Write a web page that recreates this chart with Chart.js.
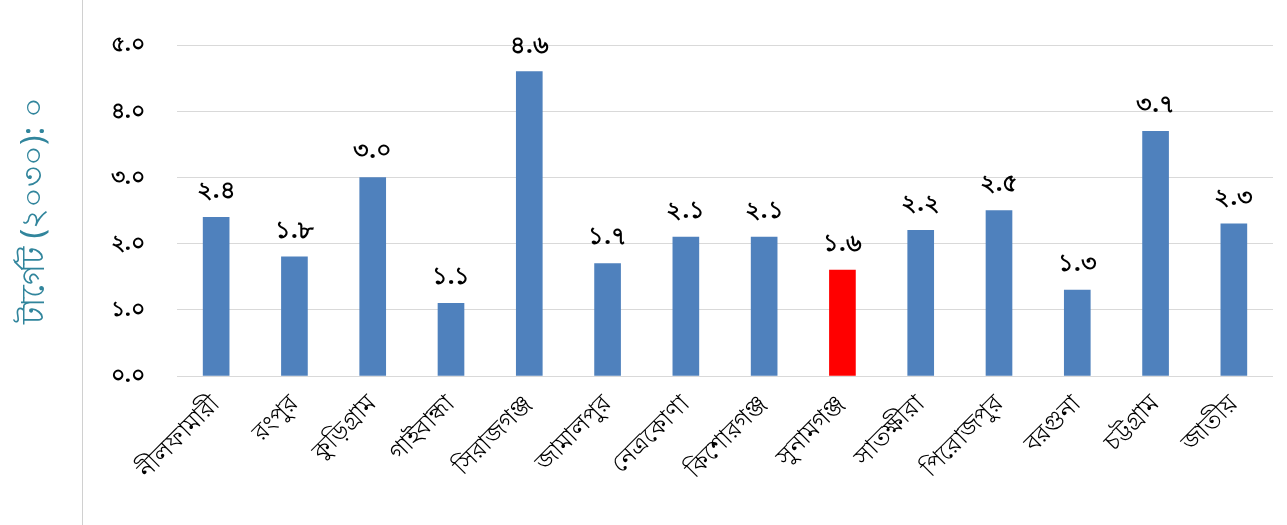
<!DOCTYPE html>
<html><head><meta charset="utf-8">
<script src="https://cdn.jsdelivr.net/npm/chart.js@4"></script>
<style>
body{margin:0;background:#fff;}
#wrap{position:absolute;left:0;top:0;width:1287px;height:525px;}
#frame{position:absolute;left:82px;top:0;width:1px;height:525px;background:#d0d0d0;}
</style></head><body>
<div id="wrap"><canvas id="c" width="1287" height="525"></canvas></div>
<div id="frame"></div>
<script>
const categories = ["নীলফামারী","রংপুর","কুড়িগ্রাম","গাইবান্ধা","সিরাজগঞ্জ","জামালপুর","নেত্রকোণা","কিশোরগঞ্জ","সুনামগঞ্জ","সাতক্ষীরা","পিরোজপুর","বরগুনা","চট্টগ্রাম","জাতীয়"];
const values = [2.4,1.8,3.0,1.1,4.6,1.7,2.1,2.1,1.6,2.2,2.5,1.3,3.7,2.3];
const highlight = "সুনামগঞ্জ";
const yTicks = [0,1,2,3,4,5];
const axisTitle = "টার্গেট (২০৩০): ০";

const bnDigits = "০১২৩৪৫৬৭৮৯";
const bn = s => String(s).replace(/\d/g, d => bnDigits[d]);
const FONT = "'Noto Sans', sans-serif";

const labelPlugin = {
    id: "labels",
    afterDatasetsDraw(chart) {
        const ctx = chart.ctx;
        const meta = chart.getDatasetMeta(0);
        ctx.save();
        ctx.font = "bold 24px " + FONT;
        ctx.fillStyle = "#000";
        ctx.textAlign = "center";
        ctx.textBaseline = "bottom";
        meta.data.forEach((bar, i) => {
            ctx.fillText(bn(values[i].toFixed(1)), bar.x, bar.y - 14);
        });
        ctx.restore();
    }
};

new Chart(document.getElementById("c"), {
    type: "bar",
    data: {
        labels: categories,
        datasets: [{
            data: values,
            backgroundColor: categories.map(c => c === highlight ? "#ff0000" : "#4f81bd"),
            barThickness: 26,
        }]
    },
    options: {
        responsive: false,
        animation: false,
        layout: { padding: { left: 0, right: 14, top: 42, bottom: 0 } },
        plugins: { legend: { display: false }, tooltip: { enabled: false } },
        scales: {
            x: {
                afterFit: ax => { ax.height = 149; },
                grid: { display: false },
                border: { display: false },
                ticks: { color: "#000", padding: 6, font: { size: 24, family: FONT }, maxRotation: 45, minRotation: 45, autoSkip: false }
            },
            y: {
                min: 0, max: 5,
                afterFit: ax => { ax.width = 177; },
                afterBuildTicks: ax => { ax.ticks = yTicks.map(v => ({ value: v })); },
                grid: { color: "#d9d9d9", lineWidth: 1, drawTicks: false },
                border: { display: false },
                title: { display: true, text: axisTitle, color: "#31859c", font: { size: 32, family: FONT }, padding: { top: 16, bottom: 0 } },
                ticks: { color: "#000", padding: 32, font: { size: 22, weight: "bold", family: FONT }, callback: v => bn(v.toFixed(1)) }
            }
        }
    },
    plugins: [labelPlugin]
});
</script>
</body></html>
